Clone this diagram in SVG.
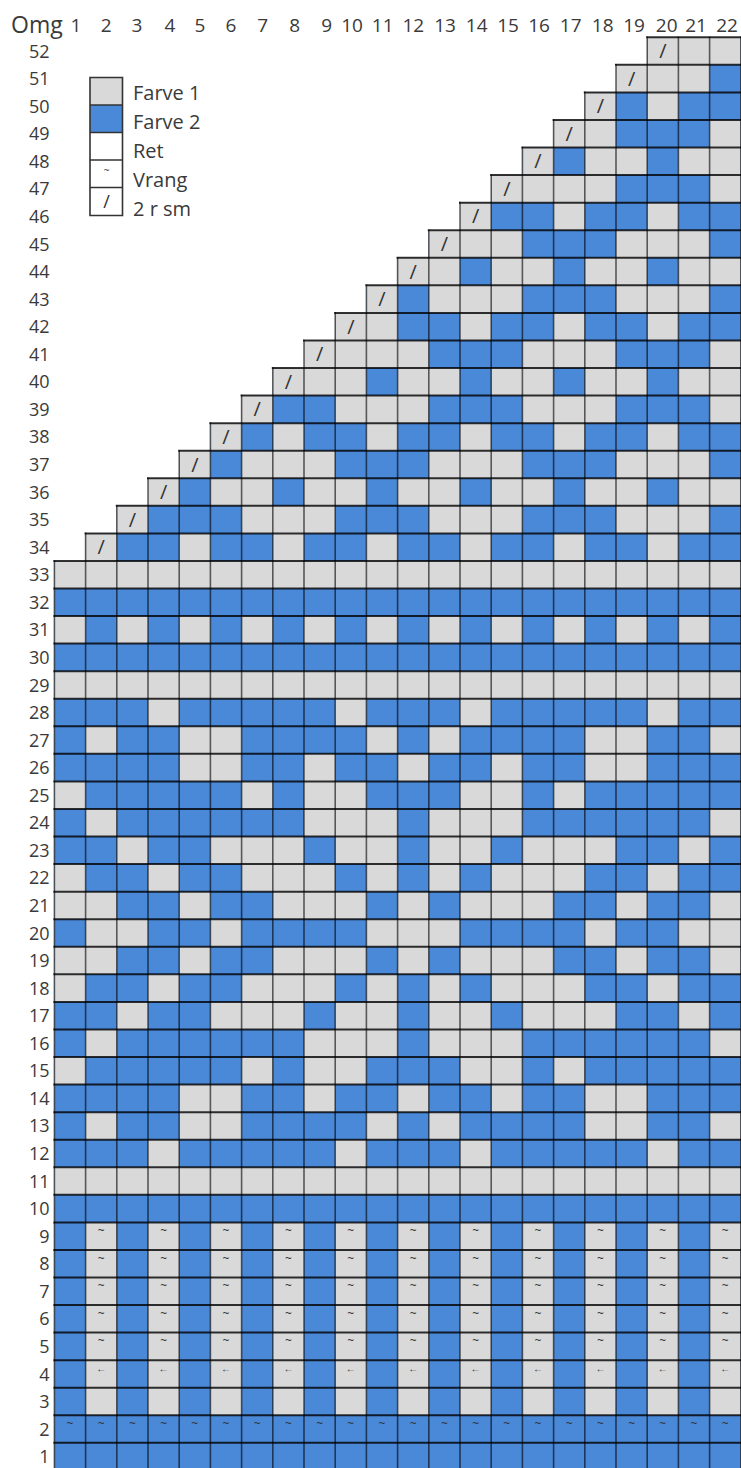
<svg xmlns="http://www.w3.org/2000/svg" width="741" height="1468" viewBox="0 0 741 1468">
<style>
text{font-family:"Open Sans","Liberation Sans",sans-serif;fill:#3a3a3a}
.lbl{font-size:18px;text-anchor:end}
.hdr{font-size:19px;text-anchor:middle}
.sl{font-size:20px;text-anchor:middle;fill:#333}
.tl{font-size:12px;text-anchor:middle;fill:#333}
.ar{font-size:10px;text-anchor:middle;fill:#333}
.leg{font-size:20px}
.h{fill:none;stroke:#000;stroke-opacity:.8;stroke-width:2;stroke-linecap:square;vector-effect:non-scaling-stroke}
.v{fill:none;stroke:#000;stroke-opacity:.6;stroke-width:1.6;stroke-linecap:square;vector-effect:non-scaling-stroke}
</style>
<rect width="741" height="1468" fill="#fff"/>
<g id="grid" transform="translate(54.4,37.3) scale(31.2,27.56)">
<polygon fill="#4a88d8" points="19,0 22,0 22,52 0,52 0,19 1,19 1,18 2,18 2,17 3,17 3,16 4,16 4,15 5,15 5,14 6,14 6,13 7,13 7,12 8,12 8,11 9,11 9,10 10,10 10,9 11,9 11,8 12,8 12,7 13,7 13,6 14,6 14,5 15,5 15,4 16,4 16,3 17,3 17,2 18,2 18,1 19,1"/>
<path fill="#d9d9d9" d="M19 0h3v1h-3z M18 1h3v1h-3z M17 2h1v1h-1z M19 2h1v1h-1z M16 3h2v1h-2z M21 3h1v1h-1z M15 4h1v1h-1z M17 4h2v1h-2z M20 4h2v1h-2z M14 5h4v1h-4z M21 5h1v1h-1z M13 6h1v1h-1z M16 6h1v1h-1z M19 6h1v1h-1z M12 7h3v1h-3z M18 7h3v1h-3z M11 8h2v1h-2z M14 8h2v1h-2z M17 8h2v1h-2z M20 8h2v1h-2z M10 9h1v1h-1z M12 9h3v1h-3z M18 9h3v1h-3z M9 10h2v1h-2z M13 10h1v1h-1z M16 10h1v1h-1z M19 10h1v1h-1z M8 11h4v1h-4z M15 11h3v1h-3z M21 11h1v1h-1z M7 12h3v1h-3z M11 12h2v1h-2z M14 12h2v1h-2z M17 12h2v1h-2z M20 12h2v1h-2z M6 13h1v1h-1z M9 13h3v1h-3z M15 13h3v1h-3z M21 13h1v1h-1z M5 14h1v1h-1z M7 14h1v1h-1z M10 14h1v1h-1z M13 14h1v1h-1z M16 14h1v1h-1z M19 14h1v1h-1z M4 15h1v1h-1z M6 15h3v1h-3z M12 15h3v1h-3z M18 15h3v1h-3z M3 16h1v1h-1z M5 16h2v1h-2z M8 16h2v1h-2z M11 16h2v1h-2z M14 16h2v1h-2z M17 16h2v1h-2z M20 16h2v1h-2z M2 17h1v1h-1z M6 17h3v1h-3z M12 17h3v1h-3z M18 17h3v1h-3z M1 18h1v1h-1z M4 18h1v1h-1z M7 18h1v1h-1z M10 18h1v1h-1z M13 18h1v1h-1z M16 18h1v1h-1z M19 18h1v1h-1z M0 19h22v1h-22z M0 21h1v1h-1z M2 21h1v1h-1z M4 21h1v1h-1z M6 21h1v1h-1z M8 21h1v1h-1z M10 21h1v1h-1z M12 21h1v1h-1z M14 21h1v1h-1z M16 21h1v1h-1z M18 21h1v1h-1z M20 21h1v1h-1z M0 23h22v1h-22z M3 24h1v1h-1z M9 24h1v1h-1z M13 24h1v1h-1z M19 24h1v1h-1z M1 25h1v1h-1z M4 25h2v1h-2z M10 25h1v1h-1z M12 25h1v1h-1z M17 25h2v1h-2z M21 25h1v1h-1z M4 26h2v1h-2z M8 26h1v1h-1z M11 26h1v1h-1z M14 26h1v1h-1z M17 26h2v1h-2z M0 27h1v1h-1z M6 27h1v1h-1z M8 27h2v1h-2z M13 27h2v1h-2z M16 27h1v1h-1z M1 28h1v1h-1z M8 28h3v1h-3z M12 28h3v1h-3z M21 28h1v1h-1z M2 29h1v1h-1z M5 29h3v1h-3z M9 29h2v1h-2z M12 29h2v1h-2z M15 29h3v1h-3z M20 29h1v1h-1z M0 30h1v1h-1z M3 30h1v1h-1z M6 30h3v1h-3z M10 30h1v1h-1z M12 30h1v1h-1z M14 30h3v1h-3z M19 30h1v1h-1z M0 31h2v1h-2z M4 31h1v1h-1z M7 31h3v1h-3z M11 31h1v1h-1z M13 31h3v1h-3z M18 31h1v1h-1z M21 31h1v1h-1z M1 32h2v1h-2z M5 32h1v1h-1z M10 32h3v1h-3z M17 32h1v1h-1z M20 32h2v1h-2z M0 33h2v1h-2z M4 33h1v1h-1z M7 33h3v1h-3z M11 33h1v1h-1z M13 33h3v1h-3z M18 33h1v1h-1z M21 33h1v1h-1z M0 34h1v1h-1z M3 34h1v1h-1z M6 34h3v1h-3z M10 34h1v1h-1z M12 34h1v1h-1z M14 34h3v1h-3z M19 34h1v1h-1z M2 35h1v1h-1z M5 35h3v1h-3z M9 35h2v1h-2z M12 35h2v1h-2z M15 35h3v1h-3z M20 35h1v1h-1z M1 36h1v1h-1z M8 36h3v1h-3z M12 36h3v1h-3z M21 36h1v1h-1z M0 37h1v1h-1z M6 37h1v1h-1z M8 37h2v1h-2z M13 37h2v1h-2z M16 37h1v1h-1z M4 38h2v1h-2z M8 38h1v1h-1z M11 38h1v1h-1z M14 38h1v1h-1z M17 38h2v1h-2z M1 39h1v1h-1z M4 39h2v1h-2z M10 39h1v1h-1z M12 39h1v1h-1z M17 39h2v1h-2z M21 39h1v1h-1z M3 40h1v1h-1z M9 40h1v1h-1z M13 40h1v1h-1z M19 40h1v1h-1z M0 41h22v1h-22z M1 43h1v7h-1z M3 43h1v7h-1z M5 43h1v7h-1z M7 43h1v7h-1z M9 43h1v7h-1z M11 43h1v7h-1z M13 43h1v7h-1z M15 43h1v7h-1z M17 43h1v7h-1z M19 43h1v7h-1z M21 43h1v7h-1z"/>
<path class="v" d="M0 19V52 M1 18V52 M2 17V52 M3 16V52 M4 15V52 M5 14V52 M6 13V52 M7 12V52 M8 11V52 M9 10V52 M10 9V52 M11 8V52 M12 7V52 M13 6V52 M14 5V52 M15 4V52 M16 3V52 M17 2V52 M18 1V52 M19 0V52 M20 0V52 M21 0V52 M22 0V52"/>
<path class="h" d="M19 0H22 M18 1H22 M17 2H22 M16 3H22 M15 4H22 M14 5H22 M13 6H22 M12 7H22 M11 8H22 M10 9H22 M9 10H22 M8 11H22 M7 12H22 M6 13H22 M5 14H22 M4 15H22 M3 16H22 M2 17H22 M1 18H22 M0 19H22 M0 20H22 M0 21H22 M0 22H22 M0 23H22 M0 24H22 M0 25H22 M0 26H22 M0 27H22 M0 28H22 M0 29H22 M0 30H22 M0 31H22 M0 32H22 M0 33H22 M0 34H22 M0 35H22 M0 36H22 M0 37H22 M0 38H22 M0 39H22 M0 40H22 M0 41H22 M0 42H22 M0 43H22 M0 44H22 M0 45H22 M0 46H22 M0 47H22 M0 48H22 M0 49H22 M0 50H22 M0 51H22"/>
</g>
<g id="symbols">
<text class="sl" x="662.8" y="58.1">/</text>
<text class="sl" x="631.6" y="85.6">/</text>
<text class="sl" x="600.4" y="113.2">/</text>
<text class="sl" x="569.2" y="140.8">/</text>
<text class="sl" x="538" y="168.3">/</text>
<text class="sl" x="506.8" y="195.9">/</text>
<text class="sl" x="475.6" y="223.4">/</text>
<text class="sl" x="444.4" y="251">/</text>
<text class="sl" x="413.2" y="278.6">/</text>
<text class="sl" x="382" y="306.1">/</text>
<text class="sl" x="350.8" y="333.7">/</text>
<text class="sl" x="319.6" y="361.2">/</text>
<text class="sl" x="288.4" y="388.8">/</text>
<text class="sl" x="257.2" y="416.4">/</text>
<text class="sl" x="226" y="443.9">/</text>
<text class="sl" x="194.8" y="471.5">/</text>
<text class="sl" x="163.6" y="499">/</text>
<text class="sl" x="132.4" y="526.6">/</text>
<text class="sl" x="101.2" y="554.2">/</text>
<text class="tl" x="101.2 163.6 226 288.4 350.8 413.2 475.6 538 600.4 662.8 725.2" y="1234.9">~~~~~~~~~~~</text>
<text class="tl" x="101.2 163.6 226 288.4 350.8 413.2 475.6 538 600.4 662.8 725.2" y="1262.5">~~~~~~~~~~~</text>
<text class="tl" x="101.2 163.6 226 288.4 350.8 413.2 475.6 538 600.4 662.8 725.2" y="1290">~~~~~~~~~~~</text>
<text class="tl" x="101.2 163.6 226 288.4 350.8 413.2 475.6 538 600.4 662.8 725.2" y="1317.6">~~~~~~~~~~~</text>
<text class="tl" x="101.2 163.6 226 288.4 350.8 413.2 475.6 538 600.4 662.8 725.2" y="1345.1">~~~~~~~~~~~</text>
<text class="ar" x="101.2 163.6 226 288.4 350.8 413.2 475.6 538 600.4 662.8 725.2" y="1372">←←←←←←←←←←←</text>
<text class="tl" x="70 101.2 132.4 163.6 194.8 226 257.2 288.4 319.6 350.8 382 413.2 444.4 475.6 506.8 538 569.2 600.4 631.6 662.8 694 725.2" y="1427.8">~~~~~~~~~~~~~~~~~~~~~~</text>
</g>
<g id="legend">
<rect x="90" y="77.5" width="32.5" height="27.5" fill="#d9d9d9"/>
<rect x="90" y="105" width="32.5" height="27.5" fill="#4a88d8"/>
<rect x="90" y="132.5" width="32.5" height="83" fill="#fff"/>
<path d="M90 77.5h32.5v138h-32.5z M90 105h32.5 M90 132.5h32.5 M90 160h32.5 M90 187.5h32.5" fill="none" stroke="#333" stroke-width="1.6"/>
<text class="tl" x="106.5" y="174" style="font-size:10px">~</text>
<text class="sl" x="106.5" y="208" style="font-size:18px">/</text>
<text class="leg" x="133" y="99.5">Farve 1</text>
<text class="leg" x="133" y="128.5">Farve 2</text>
<text class="leg" x="133" y="157.5">Ret</text>
<text class="leg" x="133" y="186.5">Vrang</text>
<text class="leg" x="133" y="215.5">2 r sm</text>
</g>
<g id="header">
<text x="11" y="33.3" style="font-size:23px">Omg</text>
<text class="hdr" x="76" y="31.7">1</text>
<text class="hdr" x="106.3" y="31.7">2</text>
<text class="hdr" x="137" y="31.7">3</text>
<text class="hdr" x="170" y="31.7">4</text>
<text class="hdr" x="200" y="31.7">5</text>
<text class="hdr" x="231" y="31.7">6</text>
<text class="hdr" x="262.7" y="31.7">7</text>
<text class="hdr" x="294.7" y="31.7">8</text>
<text class="hdr" x="326.7" y="31.7">9</text>
<text class="hdr" x="352" y="31.7">10</text>
<text class="hdr" x="382.7" y="31.7">11</text>
<text class="hdr" x="413.3" y="31.7">12</text>
<text class="hdr" x="445" y="31.7">13</text>
<text class="hdr" x="476.7" y="31.7">14</text>
<text class="hdr" x="508" y="31.7">15</text>
<text class="hdr" x="539" y="31.7">16</text>
<text class="hdr" x="570.7" y="31.7">17</text>
<text class="hdr" x="602.7" y="31.7">18</text>
<text class="hdr" x="634" y="31.7">19</text>
<text class="hdr" x="666.7" y="31.7">20</text>
<text class="hdr" x="696" y="31.7">21</text>
<text class="hdr" x="727" y="31.7">22</text>
</g>
<g id="rowlabels">
<text class="lbl" x="49.5" y="57.6">52</text>
<text class="lbl" x="49.5" y="85.2">51</text>
<text class="lbl" x="49.5" y="112.7">50</text>
<text class="lbl" x="49.5" y="140.3">49</text>
<text class="lbl" x="49.5" y="167.8">48</text>
<text class="lbl" x="49.5" y="195.4">47</text>
<text class="lbl" x="49.5" y="223">46</text>
<text class="lbl" x="49.5" y="250.5">45</text>
<text class="lbl" x="49.5" y="278.1">44</text>
<text class="lbl" x="49.5" y="305.6">43</text>
<text class="lbl" x="49.5" y="333.2">42</text>
<text class="lbl" x="49.5" y="360.8">41</text>
<text class="lbl" x="49.5" y="388.3">40</text>
<text class="lbl" x="49.5" y="415.9">39</text>
<text class="lbl" x="49.5" y="443.4">38</text>
<text class="lbl" x="49.5" y="471">37</text>
<text class="lbl" x="49.5" y="498.6">36</text>
<text class="lbl" x="49.5" y="526.1">35</text>
<text class="lbl" x="49.5" y="553.7">34</text>
<text class="lbl" x="49.5" y="581.2">33</text>
<text class="lbl" x="49.5" y="608.8">32</text>
<text class="lbl" x="49.5" y="636.4">31</text>
<text class="lbl" x="49.5" y="663.9">30</text>
<text class="lbl" x="49.5" y="691.5">29</text>
<text class="lbl" x="49.5" y="719">28</text>
<text class="lbl" x="49.5" y="746.6">27</text>
<text class="lbl" x="49.5" y="774.2">26</text>
<text class="lbl" x="49.5" y="801.7">25</text>
<text class="lbl" x="49.5" y="829.3">24</text>
<text class="lbl" x="49.5" y="856.8">23</text>
<text class="lbl" x="49.5" y="884.4">22</text>
<text class="lbl" x="49.5" y="912">21</text>
<text class="lbl" x="49.5" y="939.5">20</text>
<text class="lbl" x="49.5" y="967.1">19</text>
<text class="lbl" x="49.5" y="994.6">18</text>
<text class="lbl" x="49.5" y="1022.2">17</text>
<text class="lbl" x="49.5" y="1049.8">16</text>
<text class="lbl" x="49.5" y="1077.3">15</text>
<text class="lbl" x="49.5" y="1104.9">14</text>
<text class="lbl" x="49.5" y="1132.4">13</text>
<text class="lbl" x="49.5" y="1160">12</text>
<text class="lbl" x="49.5" y="1187.6">11</text>
<text class="lbl" x="49.5" y="1215.1">10</text>
<text class="lbl" x="49.5" y="1242.7">9</text>
<text class="lbl" x="49.5" y="1270.2">8</text>
<text class="lbl" x="49.5" y="1297.8">7</text>
<text class="lbl" x="49.5" y="1325.4">6</text>
<text class="lbl" x="49.5" y="1352.9">5</text>
<text class="lbl" x="49.5" y="1380.5">4</text>
<text class="lbl" x="49.5" y="1408">3</text>
<text class="lbl" x="49.5" y="1435.6">2</text>
<text class="lbl" x="49.5" y="1463.2">1</text>
</g>
</svg>
